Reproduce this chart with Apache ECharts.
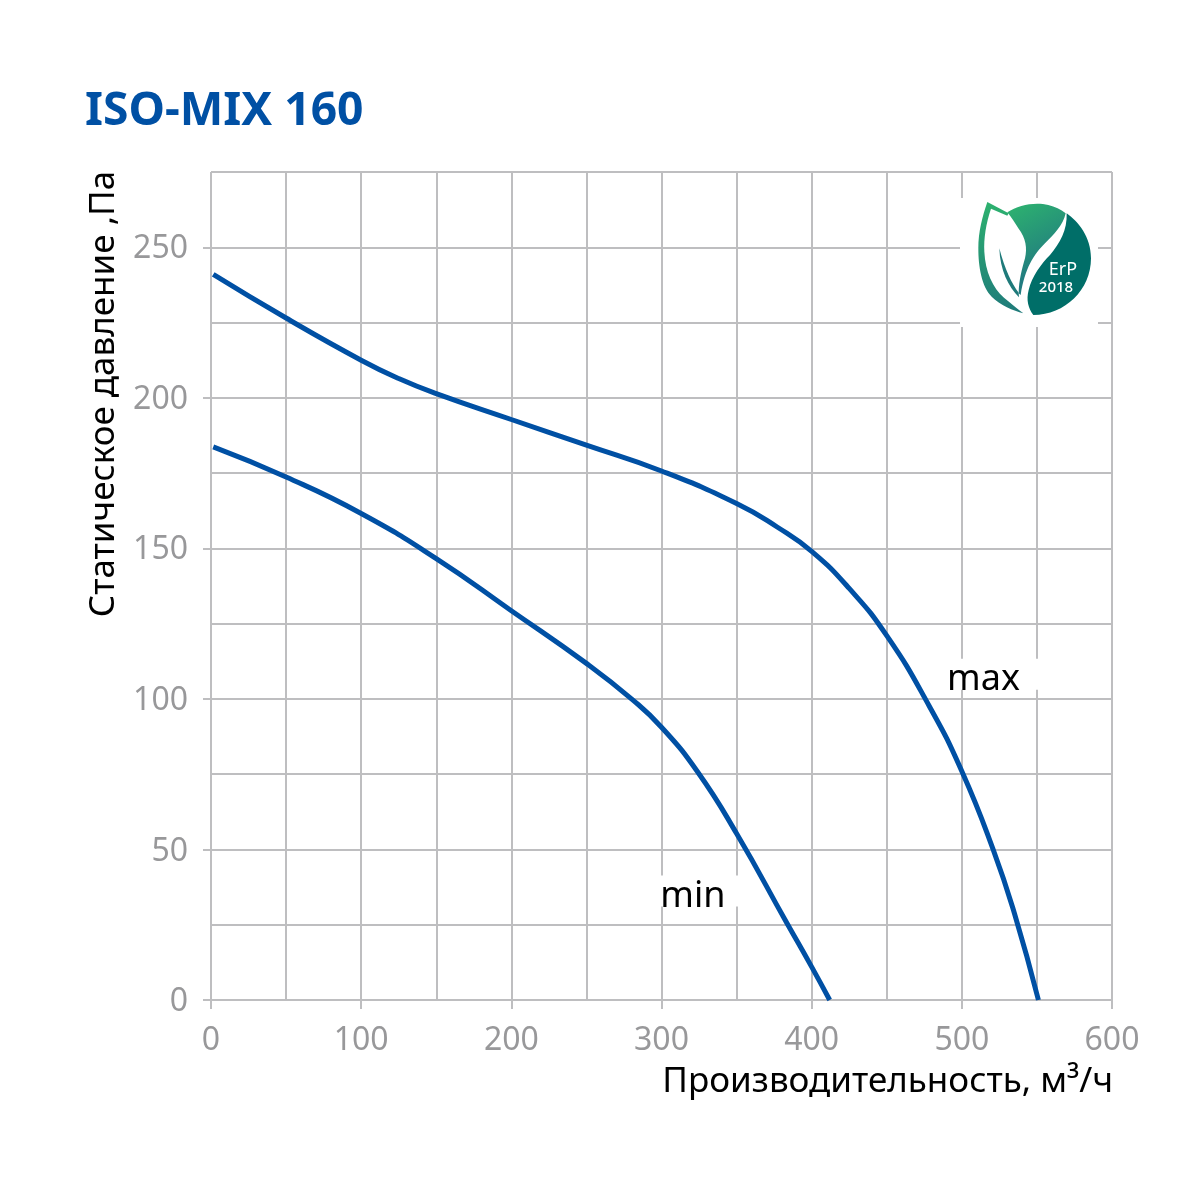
<!DOCTYPE html>
<html>
<head>
<meta charset="utf-8">
<style>
  html, body { margin: 0; padding: 0; background: #fff; }
  #chart { width: 1200px; height: 1200px; }
</style>
</head>
<body>
<div id="chart"></div>
<script src="https://cdn.jsdelivr.net/npm/echarts@6/dist/echarts.min.js"></script>
<script>
const titleText = "ISO-MIX 160";
const xName = "Производительность, м³/ч";
const yName = "Статическое давление ,Па";

const xTicks = [0, 100, 200, 300, 400, 500, 600];
const yTicks = [0, 50, 100, 150, 200, 250];

const maxFlow = [1.5, 50, 100, 125, 150, 200, 250, 300, 350, 377, 400, 425, 450, 478, 500, 521, 535, 551];
const maxPressure = [241, 226.5, 212.5, 206.4, 201.4, 192.8, 184.3, 175.7, 164.9, 157.1, 149, 136.7, 121, 97.9, 76, 49.8, 28.8, 0];
const minFlow = [1.5, 50, 100, 150, 200, 250, 281, 300, 324, 350, 383, 400, 412];
const minPressure = [183.7, 173.7, 161.6, 146.6, 129.3, 111.8, 99.6, 90.6, 75.8, 55.3, 26, 11, 0];

const gridColor = "#BEBEC0";
const labelColor = "#98989A";
const lineColor = "#0050A4";
const font = "Noto Sans";

const zip = (xs, ys) => xs.map((x, i) => [x, ys[i]]);

// подпись кривой на белой подложке
const curveLabel = (name, coord, padding) => ({
  name,
  coord,
  symbolSize: 0,
  label: {
    show: true,
    position: "inside",
    formatter: `{t|${name}}`,
    backgroundColor: "#fff",
    padding,
    rich: {
      t: { color: "#000", fontFamily: font, fontSize: 36, lineHeight: 31, padding: [3, 0, 0, 0], verticalAlign: "top" },
    },
  },
});

const leafGreen = (x, y, x2, y2, from, to) => ({
  type: "linear",
  x,
  y,
  x2,
  y2,
  colorStops: [
    { offset: 0, color: from },
    { offset: 1, color: to },
  ],
});

// эмблема ErP: контуры в координатах группы
const logoShapes = {
  erpTop: "M172 97 C205 75 255 65 295 75 C315 80 332 88 347 100 C340 135 310 165 285 190 C250 225 225 265 212 345 L206 340 C207 300 215 270 225 235 C232 205 228 175 205 145 C195 130 185 112 172 97 Z",
  erpRight: "M350 100 C385 125 423 170 423 235 C423 330 345 405 250 405 C235 385 228 360 236 330 C245 290 275 250 300 225 C330 190 352 150 350 100 Z",
  erpLeaf: "M112 66 L176 100 L172 107 L123 86 C108 130 101 175 103 215 C106 275 128 323 162 353 C180 368 200 385 220 400 C190 392 150 375 125 350 C95 320 85 260 85 205 C85 155 97 110 112 66 Z",
  erpVein: "M148 205 C165 270 185 310 206 338 L207 352 C175 320 150 270 148 205 Z",
};
Object.keys(logoShapes).forEach((name) => {
  echarts.graphic.registerShape(name, echarts.graphic.extendPath(logoShapes[name], {}));
});

const chart = echarts.init(document.getElementById("chart"), null, { renderer: "canvas" });

chart.setOption({
  animation: false,
  backgroundColor: "#fff",
  title: {
    text: titleText,
    left: 80,
    top: 84,
    textStyle: { color: lineColor, fontFamily: font, fontWeight: "bold", fontSize: 46.2 },
  },
  grid: { left: 211, right: 88, top: 172, bottom: 200, outerBoundsMode: "none" },
  xAxis: [
    // сетка
    {
      type: "value",
      min: 0,
      max: 600,
      interval: 50,
      axisLine: { show: false },
      axisTick: { show: false },
      axisLabel: { show: false },
      splitLine: { show: true, lineStyle: { color: gridColor, width: 2 } },
    },
    // подписи
    {
      type: "value",
      min: 0,
      max: 600,
      interval: 100,
      position: "bottom",
      splitLine: { show: false },
      axisLine: { show: false },
      axisTick: { show: true, length: 9, lineStyle: { color: gridColor, width: 2 }, customValues: xTicks },
      axisLabel: { show: true, color: labelColor, fontFamily: font, fontSize: 32, margin: 25, customValues: xTicks, hideOverlap: false, showMinLabel: true, showMaxLabel: true },
    },
  ],
  yAxis: [
    {
      type: "value",
      min: 0,
      max: 275,
      interval: 25,
      axisLine: { show: false },
      axisTick: { show: false },
      axisLabel: { show: false },
      splitLine: { show: true, lineStyle: { color: gridColor, width: 2 } },
    },
    {
      type: "value",
      min: 0,
      max: 275,
      interval: 25,
      position: "left",
      splitLine: { show: false },
      axisLine: { show: false },
      axisTick: { show: true, length: 8, lineStyle: { color: gridColor, width: 2 }, customValues: yTicks },
      axisLabel: {
        show: true,
        margin: 23,
        customValues: yTicks,
        formatter: (value) => `{v|${value}}`,
        rich: {
          v: { color: labelColor, fontFamily: font, fontSize: 32, lineHeight: 36, padding: [4, 0, 0, 0], verticalAlign: "top" },
        },
      },
    },
  ],
  series: [
    {
      name: "max",
      type: "line",
      smooth: 0.5,
      showSymbol: false,
      lineStyle: { color: lineColor, width: 5 },
      data: zip(maxFlow, maxPressure),
      z: 5,
      markPoint: { silent: true, data: [curveLabel("max", [519.8, 108.2], [0, 19, 0, 3])] },
    },
    {
      name: "min",
      type: "line",
      smooth: 0.5,
      showSymbol: false,
      lineStyle: { color: lineColor, width: 5 },
      data: zip(minFlow, minPressure),
      z: 5,
      markPoint: { silent: true, data: [curveLabel("min", [324.6, 36.2], [0, 13, 0, 2])] },
    },
  ],
  graphic: [
    { type: "rect", z: 50, shape: { x: 960, y: 198, width: 138, height: 129 }, style: { fill: "#fff" } },
    {
      type: "group",
      z: 51,
      x: 950,
      y: 180,
      scaleX: 1 / 3,
      scaleY: 1 / 3,
      children: [
        { type: "erpTop", z: 51, style: { fill: leafGreen(0.1, 0, 0.7, 0.7, "#2DB26F", "#217B80") } },
        { type: "erpRight", z: 51, style: { fill: "#006E68" } },
        { type: "erpLeaf", z: 51, style: { fill: leafGreen(0, 0, 0, 1, "#2DB26F", "#1F7A7A") } },
        { type: "erpVein", z: 51, style: { fill: "#1F7A7A" } },
      ],
    },
    {
      type: "text",
      z: 52,
      x: 1063,
      y: 270,
      style: { text: "ErP", fill: "#fff", font: "18px 'Noto Sans'", align: "center", verticalAlign: "middle" },
    },
    {
      type: "text",
      z: 52,
      x: 1056,
      y: 288,
      style: { text: "2018", fill: "#fff", font: "500 15px 'Noto Sans'", align: "center", verticalAlign: "middle" },
    },
    // подписи осей
    {
      type: "text",
      z: 52,
      x: 1113,
      y: 1082,
      style: { text: xName, fill: "#000", font: "35px 'Noto Sans'", align: "right", verticalAlign: "middle" },
    },
    {
      type: "text",
      z: 52,
      x: 104,
      y: 394,
      rotation: Math.PI / 2,
      style: { text: yName, fill: "#000", font: "35px 'Noto Sans'", align: "center", verticalAlign: "middle" },
    },
  ],
});
</script>
</body>
</html>
